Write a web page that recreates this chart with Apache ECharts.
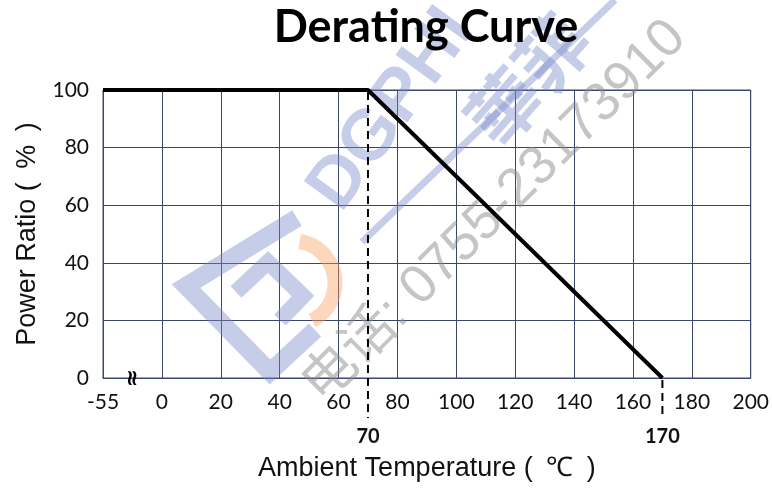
<!DOCTYPE html>
<html>
<head>
<meta charset="utf-8">
<script src="https://cdn.jsdelivr.net/npm/echarts@6/dist/echarts.min.js"></script>
<style>
html,body{margin:0;padding:0;background:#fff;}
#main{width:772px;height:489px;}
</style>
</head>
<body>
<div id="main"></div>
<script>
// ---- data ----
var titleText = 'Derating Curve';
var xName = 'Ambient Temperature (\u2002\u2103\u2002)';
var yName = 'Power Ratio (\u2002%\u2002)';
var tempPoints = [-55, 70, 170];        // ambient temperature (°C)
var powerRatio = [100, 100, 0];         // power ratio (%)
var markTemps = [70, 170];              // highlighted temperatures
var xTickLabels = ['-55', '0', '20', '40', '60', '80', '100', '120', '140', '160', '180', '200'];
var yTickLabels = ['0', '20', '40', '60', '80', '100'];
var breakStart = -55;                   // axis is broken between -55 and 0
var breakPos = -20;                     // -55 is drawn one step left of 0

function mapX(t) { return t < 0 ? breakPos : t; }
function labelX(v) { return v === breakPos ? String(breakStart) : String(v); }

var chart = echarts.init(document.getElementById('main'));
var gridColor = '#3b4768';
var tickFont = 'Lato, "Open Sans", sans-serif';
var nameFont = '"Liberation Sans", Arial, sans-serif';

var lineData = tempPoints.map(function (t, i) { return [mapX(t), powerRatio[i]]; });

var option = {
  backgroundColor: '#fff',
  animation: false,
  title: {
    text: titleText,
    left: 421, top: 0, textAlign: 'center',
    textStyle: { fontFamily: tickFont, fontWeight: 'bold', fontSize: 45, color: '#000' }
  },
  grid: { left: 103, right: 20, top: 90, bottom: 111, show: true, borderColor: gridColor, borderWidth: 1 },
  xAxis: {
    type: 'value', min: -20, max: 200, interval: 20,
    name: xName, nameLocation: 'middle', nameGap: 77,
    nameTextStyle: { fontFamily: nameFont, fontSize: 27, color: '#111' },
    axisLine: { show: true, lineStyle: { color: gridColor, width: 1 } },
    axisTick: { show: false },
    axisLabel: { formatter: labelX, fontFamily: tickFont, fontSize: 21, color: '#111', margin: 14 },
    splitLine: { show: true, lineStyle: { color: gridColor, width: 1 } }
  },
  yAxis: {
    type: 'value', min: 0, max: 100, interval: 20,
    name: yName, nameLocation: 'middle', nameGap: 62,
    nameTextStyle: { fontFamily: nameFont, fontSize: 27, color: '#111' },
    axisLine: { show: true, lineStyle: { color: gridColor, width: 1 } },
    axisTick: { show: false },
    axisLabel: { fontFamily: tickFont, fontSize: 21, color: '#111', margin: 14 },
    splitLine: { show: true, lineStyle: { color: gridColor, width: 1 } }
  },
  series: [{
    type: 'line', data: lineData, symbol: 'none', z: 10,
    lineStyle: { color: '#000', width: 4 }
  }]
};
chart.setOption(option);

// ---- overlays positioned through the axes ----
function px(x, y) { return chart.convertToPixel({ xAxisIndex: 0, yAxisIndex: 0 }, [x, y]); }
var g = [];
var base = px(0, 0)[1];
var belowY = base + 40;
markTemps.forEach(function (t) {
  var topP = px(mapX(t), powerRatio[tempPoints.indexOf(t)]);
  g.push({ type: 'line', z: 20, shape: { x1: topP[0], y1: topP[1] + 2, x2: topP[0], y2: belowY },
    style: { stroke: '#000', lineWidth: 2, lineDash: [8, 5] } });
  g.push({ type: 'text', z: 20, x: topP[0], y: base + 59,
    style: { text: String(t), fill: '#111', font: 'bold 20px ' + tickFont, align: 'center', verticalAlign: 'middle' } });
});
// axis break symbol
g.push({ type: 'text', z: 20, x: px(breakPos, 0)[0] + 30, y: base, rotation: Math.PI / 2,
  style: { text: '\u2248', fill: '#000', font: 'bold 22px "DejaVu Sans", sans-serif', align: 'center', verticalAlign: 'middle' } });

// ---- watermark (decorative) ----
var wmBlue = 'rgba(120,135,200,0.42)';
var wmOrange = 'rgba(250,160,95,0.42)';
var wmGray = 'rgba(140,140,140,0.5)';
g.push({ type: 'polyline', z: 5, shape: { points: [[297, 218], [186, 286], [270, 372], [315, 330]] },
  style: { stroke: wmBlue, lineWidth: 18, fill: null, lineJoin: 'miter' } });
g.push({ type: 'polyline', z: 5, shape: { points: [[236, 292], [268, 262], [303, 296], [280, 320]] },
  style: { stroke: wmBlue, lineWidth: 16, fill: null } });
g.push({ type: 'arc', z: 5, shape: { cx: 293, cy: 283, r: 42, startAngle: -Math.PI * 0.45, endAngle: Math.PI * 0.35 },
  style: { stroke: wmOrange, lineWidth: 15, fill: null } });
g.push({ type: 'line', z: 5, shape: { x1: 362, y1: 242, x2: 615, y2: 0 },
  style: { stroke: wmBlue, lineWidth: 7 } });
g.push({ type: 'text', z: 5, x: 392, y: 110, rotation: Math.PI * 0.3,
  style: { text: 'DGPHI', fill: wmBlue, font: 'bold 72px "Liberation Sans", sans-serif', align: 'center', verticalAlign: 'middle' } });
g.push({ type: 'text', z: 5, x: 528, y: 80, rotation: Math.PI * 0.27,
  style: { text: '華菲', fill: wmBlue, font: 'bold 72px "Noto Sans CJK TC", sans-serif', align: 'center', verticalAlign: 'middle' } });
g.push({ type: 'text', z: 5, x: 495, y: 212, rotation: Math.PI / 4,
  style: { text: '电话: 0755-23173910', fill: wmGray, font: '54px "Liberation Sans", "Noto Sans CJK SC", sans-serif', align: 'center', verticalAlign: 'middle' } });

chart.setOption({ graphic: g });
</script>
</body>
</html>
